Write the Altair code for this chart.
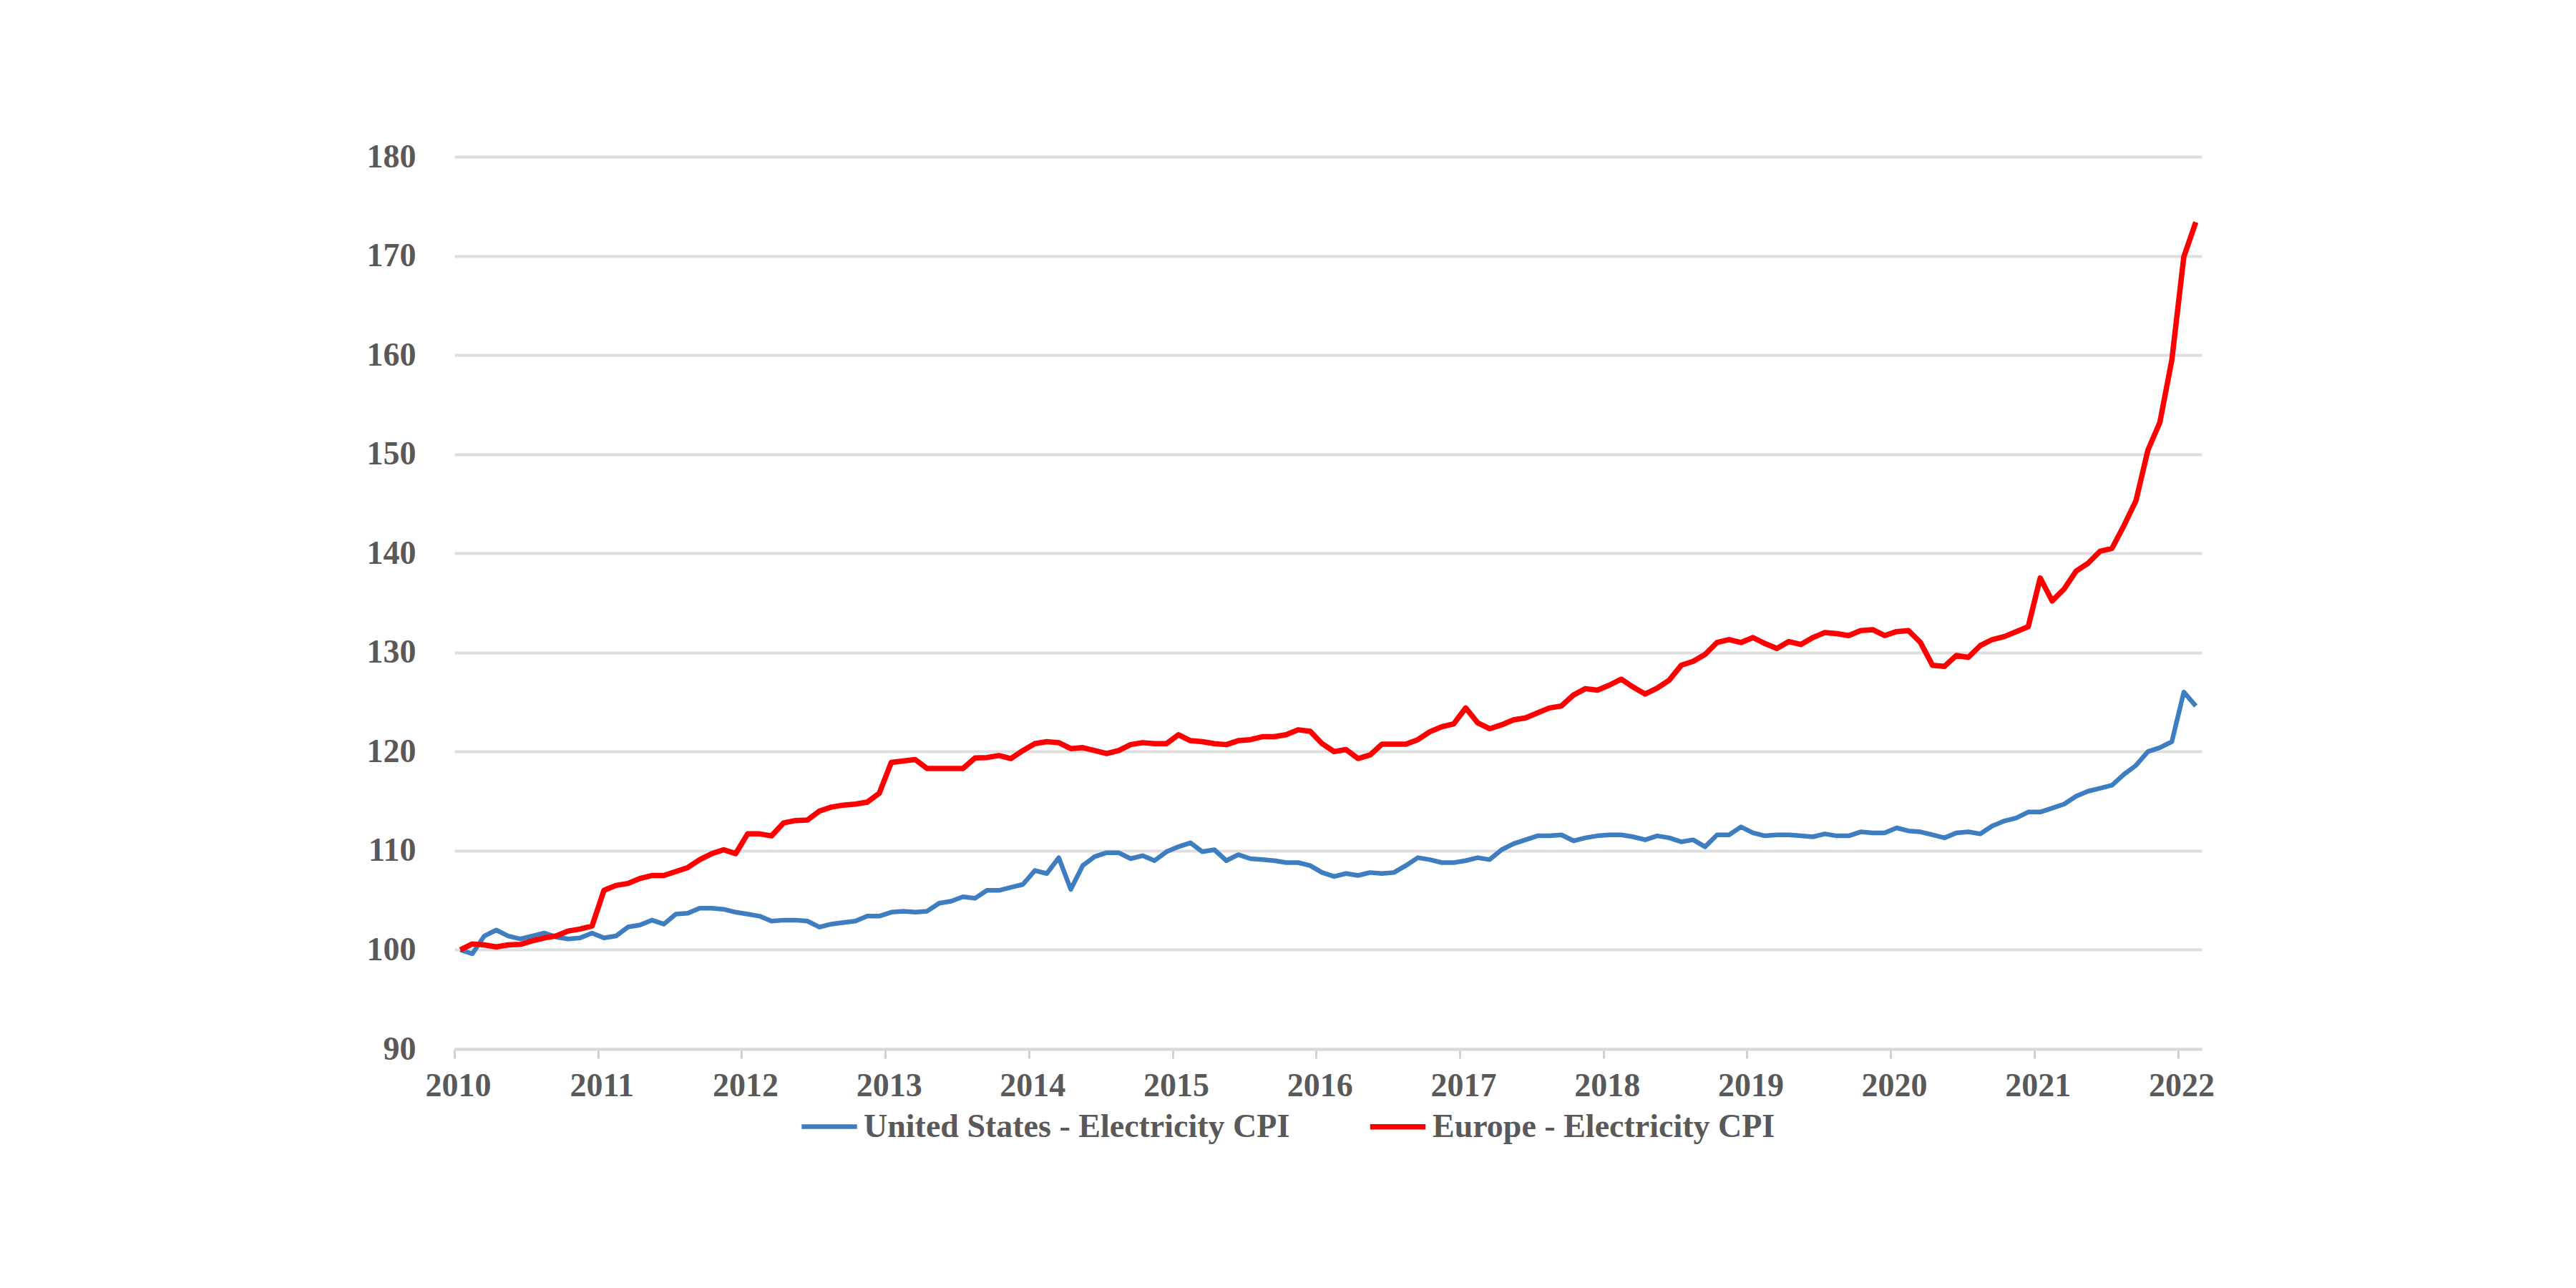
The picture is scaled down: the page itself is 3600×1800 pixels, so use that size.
import altair as alt
import pandas as pd

# Monthly index values, Jan 2010 = 100 (Jan 2010 .. Feb 2022)
us_cpi = [
    100.0, 99.6, 101.4, 102.0, 101.4, 101.1, 101.4, 101.7, 101.3, 101.1, 101.2, 101.7,
    101.2, 101.4, 102.3, 102.5, 103.0, 102.6, 103.6, 103.7, 104.2, 104.2, 104.1, 103.8,
    103.6, 103.4, 102.9, 103.0, 103.0, 102.9, 102.3, 102.6, 102.75, 102.9, 103.4, 103.4,
    103.8, 103.9, 103.8, 103.9, 104.7, 104.9, 105.35, 105.2, 106.0, 106.0, 106.3, 106.6,
    108.0, 107.7, 109.3, 106.1, 108.5, 109.4, 109.8, 109.8, 109.2, 109.5, 109.0, 109.9,
    110.4, 110.8, 109.9, 110.1, 109.0, 109.6, 109.2, 109.1, 109.0, 108.8, 108.8, 108.5,
    107.8, 107.4, 107.7, 107.5, 107.8, 107.7, 107.8, 108.5, 109.3, 109.1, 108.8, 108.8,
    109.0, 109.3, 109.1, 110.1, 110.7, 111.1, 111.5, 111.5, 111.6, 111.0, 111.3, 111.5,
    111.6, 111.6, 111.4, 111.1, 111.5, 111.3, 110.9, 111.1, 110.4, 111.6, 111.6, 112.4,
    111.8, 111.5, 111.6, 111.6, 111.5, 111.4, 111.7, 111.5, 111.5, 111.9, 111.8, 111.8,
    112.3, 112.0, 111.9, 111.6, 111.3, 111.8, 111.9, 111.7, 112.5, 113.0, 113.3, 113.9,
    113.9, 114.3, 114.7, 115.5, 116.0, 116.3, 116.6, 117.7, 118.6, 120.0, 120.4, 121.0,
    126.0, 124.6,
]
eu_cpi = [
    100.0, 100.6, 100.5, 100.3, 100.5, 100.55, 100.9, 101.2, 101.4, 101.9, 102.1, 102.4,
    106.0, 106.5, 106.7, 107.2, 107.5, 107.5, 107.9, 108.3, 109.1, 109.7, 110.1, 109.7,
    111.7, 111.7, 111.5, 112.8, 113.05, 113.1, 114.0, 114.4, 114.6, 114.7, 114.9, 115.8,
    118.9, 119.05, 119.2, 118.3, 118.3, 118.3, 118.3, 119.35, 119.4, 119.6, 119.3, 120.1,
    120.8, 121.0, 120.9, 120.3, 120.4, 120.1, 119.8, 120.1, 120.7, 120.9, 120.8, 120.8,
    121.7, 121.1, 121.0, 120.8, 120.7, 121.1, 121.2, 121.5, 121.5, 121.7, 122.2, 122.05,
    120.8, 120.0, 120.2, 119.3, 119.65, 120.75, 120.75, 120.75, 121.2, 122.0, 122.5, 122.8,
    124.4, 122.9, 122.3, 122.7, 123.2, 123.4, 123.9, 124.4, 124.6, 125.7, 126.35, 126.2,
    126.7, 127.3, 126.5, 125.8, 126.4, 127.2, 128.7, 129.1, 129.8, 131.0, 131.3, 131.0,
    131.5, 130.9, 130.4, 131.1, 130.8, 131.5, 132.0, 131.9, 131.7, 132.2, 132.3, 131.7,
    132.1, 132.2, 131.0, 128.7, 128.6, 129.7, 129.5, 130.7, 131.3, 131.6, 132.1, 132.6,
    137.5, 135.2, 136.4, 138.2, 139.0, 140.2, 140.5, 142.8, 145.3, 150.4, 153.2, 159.5,
    169.9, 173.4,
]
series_names = ["United States - Electricity CPI", "Europe - Electricity CPI"]
series_colors = ["#3E7DC0", "#FF0000"]
year_ticks = [0, 12, 24, 36, 48, 60, 72, 84, 96, 108, 120, 132, 144]
y_ticks = [90, 100, 110, 120, 130, 140, 150, 160, 170, 180]

rows = []
for name, vals in zip(series_names, [us_cpi, eu_cpi]):
    for i, v in enumerate(vals):
        rows.append({"month": i + 0.5, "value": v, "series": name, "order": i})
df = pd.DataFrame(rows)

FONT = "Liberation Serif"
GREY_TXT = "#595959"
FS = 46

chart = (
    alt.Chart(df)
    .mark_line(strokeJoin="round")
    .encode(
        x=alt.X(
            "month:Q",
            scale=alt.Scale(domain=[0, 146], nice=False, zero=False),
            axis=alt.Axis(
                title=None,
                values=year_ticks,
                labelExpr="'' + (2010 + datum.value / 12)",
                grid=False,
                domain=True,
                domainColor="#D9D9D9",
                domainWidth=4,
                ticks=True,
                tickColor="#D0D0D0",
                tickWidth=3,
                tickSize=13,
                labelPadding=16,
                labelOffset=5,
                labelFont=FONT,
                labelFontSize=FS,
                labelFontWeight="bold",
                labelColor=GREY_TXT,
                labelFlush=False,
            ),
        ),
        y=alt.Y(
            "value:Q",
            scale=alt.Scale(domain=[90, 180], nice=False, zero=False),
            axis=alt.Axis(
                title=None,
                values=y_ticks,
                grid=True,
                gridColor="#DEDEDE",
                gridWidth=4,
                domain=False,
                ticks=False,
                tickSize=0,
                labelPadding=54,
                labelFont=FONT,
                labelFontSize=FS,
                labelFontWeight="bold",
                labelColor=GREY_TXT,
            ),
        ),
        color=alt.Color(
            "series:N",
            scale=alt.Scale(domain=series_names, range=series_colors),
            legend=alt.Legend(
                title=None,
                orient="none",
                legendX=482,
                legendY=1313,
                direction="horizontal",
                symbolType="stroke",
                symbolSize=6000,
                symbolStrokeWidth=7,
                labelFont=FONT,
                labelFontSize=FS,
                labelFontWeight="bold",
                labelColor=GREY_TXT,
                labelOffset=6,
                labelLimit=1000,
                columnPadding=96,
            ),
        ),
        strokeWidth=alt.StrokeWidth(
            "series:N",
            scale=alt.Scale(domain=series_names, range=[6.5, 7.5]),
            legend=None,
        ),
        order="order:Q",
    )
    .properties(
        width=2442,
        height=1247,
        autosize=alt.AutoSizeParams(type="none"),
        padding={"left": 627, "top": 211, "right": 500, "bottom": 310},
        background="white",
    )
    .configure_view(stroke=None)
)

chart.save("out.html", embed_options={"renderer": "svg", "actions": False})
